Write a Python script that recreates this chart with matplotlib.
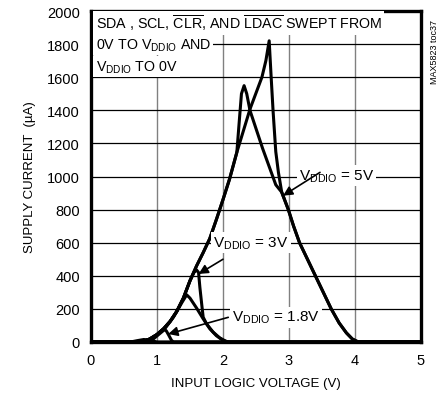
import matplotlib
matplotlib.use('Agg')
import matplotlib.pyplot as plt
from matplotlib import font_manager

# pick a narrow face if there is one
names = {f.name for f in font_manager.fontManager.ttflist}
narrow = 'Liberation Sans Narrow' if 'Liberation Sans Narrow' in names else 'Liberation Sans'
plt.rcParams['font.family'] = [narrow, 'DejaVu Sans']
plt.rcParams['mathtext.fontset'] = 'custom'
plt.rcParams['mathtext.rm'] = narrow
plt.rcParams['mathtext.it'] = narrow

# shared rising edge and falling edge of the big bell
rise_x = [0, 0.74, 0.80, 0.89, 1.0, 1.1, 1.2, 1.3, 1.4, 1.5, 1.6, 1.7, 1.8, 1.9, 2.0, 2.1, 2.21]
rise_y = [0, 0, 5, 18, 45, 80, 125, 185, 265, 370, 460, 540, 625, 740, 860, 985, 1146]
fall_x = [2.89, 2.99, 3.07, 3.16, 3.28, 3.40, 3.52, 3.64, 3.76, 3.87, 3.96, 4.05, 5]
fall_y = [905, 800, 700, 600, 500, 400, 300, 200, 115, 55, 18, 0, 0]

# VDDIO = 5V, both sweep directions (middle part)
v5_up_x = [2.41, 2.59, 2.65, 2.70, 2.73, 2.76, 2.80, 2.84]
v5_up_y = [1408, 1600, 1700, 1820, 1600, 1390, 1150, 1025]
v5_dn_x = [2.25, 2.28, 2.32, 2.36, 2.41, 2.5, 2.6, 2.7, 2.80]
v5_dn_y = [1350, 1500, 1549, 1500, 1398, 1290, 1170, 1060, 950]
# VDDIO = 3V
v3_up_x = [0, 0.74, 0.80, 0.89, 1.0, 1.1, 1.2, 1.3, 1.4, 1.5, 1.56, 1.60, 1.63, 1.65, 1.68, 1.70,
           1.75, 1.85, 1.95, 2.05, 2.1, 5]
v3_up_y = [0, 0, 5, 18, 45, 80, 125, 185, 265, 370, 420, 435, 420, 330, 220, 150,
           110, 60, 25, 3, 0, 0]
v3_dn_x = [0, 0.8, 0.95, 1.1, 1.25, 1.38, 1.45, 1.5, 1.6, 1.7, 1.8, 1.9, 2.0, 2.08, 5]
v3_dn_y = [0, 0, 20, 70, 150, 240, 285, 265, 205, 140, 80, 38, 10, 0, 0]
# VDDIO = 1.8V
v18_up_x = [0, 0.74, 0.80, 0.89, 1.0, 1.1, 1.14, 1.18, 1.22, 1.25, 5]
v18_up_y = [0, 0, 5, 18, 45, 78, 68, 40, 10, 0, 0]
v18_dn_x = [0, 0.6, 0.7, 0.8, 0.9, 1.0, 5]
v18_dn_y = [0, 0, 8, 15, 10, 0, 0]

xticks = [0, 1, 2, 3, 4, 5]
yticks = [0, 200, 400, 600, 800, 1000, 1200, 1400, 1600, 1800, 2000]

fig = plt.figure(figsize=(4.41, 4.02), dpi=100)
ax = fig.add_axes([0.2063, 0.1468, 0.7483, 0.8233])

curves = [
    (rise_x + v5_up_x + fall_x, rise_y + v5_up_y + fall_y),
    (rise_x + v5_dn_x + fall_x, rise_y + v5_dn_y + fall_y),
    (v3_up_x, v3_up_y), (v3_dn_x, v3_dn_y),
    (v18_up_x, v18_up_y), (v18_dn_x, v18_dn_y),
]
for xs, ys in curves:
    ax.plot(xs, ys, color='black', lw=2.2, solid_joinstyle='round', zorder=3)

ax.set_xlim(0, 5)
ax.set_ylim(0, 2000)
ax.set_xticks(xticks)
ax.set_yticks(yticks)
ax.tick_params(length=0, labelsize=10.5, pad=8)
for x in xticks[1:-1]:
    ax.axvline(x, color='#808080', lw=1.0, zorder=1)
for y in yticks[1:-1]:
    ax.axhline(y, color='black', lw=0.9, zorder=1)
for s in ax.spines.values():
    s.set_linewidth(2.4)

ax.set_xlabel('INPUT LOGIC VOLTAGE (V)', fontsize=9.5, labelpad=7)
ax.set_ylabel('SUPPLY CURRENT  (\u00b5A)', fontsize=9.5, labelpad=8)

box = dict(facecolor='white', edgecolor='none', pad=1.5)
ax.text(0.07, 1930, r'SDA , SCL, $\overline{\mathrm{CLR}}$, AND $\overline{\mathrm{LDAC}}$ SWEPT FROM',
        fontsize=10.3, va='center', ha='left', bbox=box, zorder=4)
ax.text(0.07, 1795, r'0V TO V$_{\mathrm{DDIO}}$ AND', fontsize=10.3, va='center', ha='left',
        bbox=box, zorder=4)
ax.text(0.07, 1665, r'V$_{\mathrm{DDIO}}$ TO 0V', fontsize=10.3, va='center', ha='left',
        bbox=box, zorder=4)

arrow = dict(arrowstyle='-|>', color='black', lw=1.2, mutation_scale=14, shrinkA=0, shrinkB=0)
ax.text(3.72, 1005, r'V$_{\mathrm{DDIO}}$ = 5V', fontsize=11, ha='center', va='center',
        zorder=5, bbox=box)
ax.annotate('', xy=(2.91, 884), xytext=(3.47, 1025), arrowprops=arrow, zorder=5)
ax.text(2.42, 600, r'V$_{\mathrm{DDIO}}$ = 3V', fontsize=11, ha='center', va='center',
        zorder=5, bbox=box)
ax.annotate('', xy=(1.63, 411), xytext=(2.0, 500), arrowprops=arrow, zorder=5)
ax.text(2.80, 150, r'V$_{\mathrm{DDIO}}$ = 1.8V', fontsize=11, ha='center', va='center',
        zorder=5, bbox=box)
ax.annotate('', xy=(1.17, 48), xytext=(2.08, 149), arrowprops=arrow, zorder=5)

fig.text(0.985, 0.87, 'MAX5823 toc37', rotation=90, fontsize=6.5, ha='center', va='center')

fig.savefig('out.png', dpi=100)
